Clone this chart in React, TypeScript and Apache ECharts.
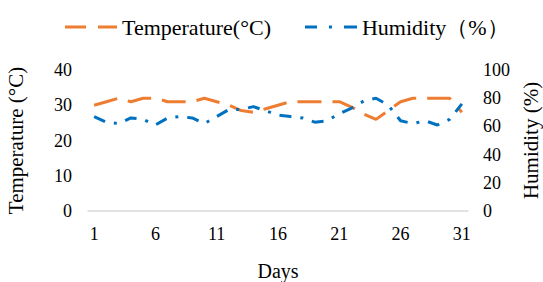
import React, { useEffect, useRef } from "react";
import * as echarts from "echarts";

const days: string[] = [
  "1","2","3","4","5","6","7","8","9","10","11","12","13","14","15","16",
  "17","18","19","20","21","22","23","24","25","26","27","28","29","30","31",
];
const temperature: number[] = [
  30, 31, 32, 31, 32, 32, 31, 31, 31, 32, 31, 30, 28.5, 28, 29, 30,
  31, 31, 31, 31, 31, 29.5, 27.5, 26, 28.5, 31, 32, 32, 32, 32, 28,
];
const humidity: number[] = [
  67, 63, 62, 66, 65, 61, 66, 67, 66, 62, 67, 72, 72, 74, 71, 68,
  67, 66, 63, 64, 69, 73, 78, 80, 75, 64, 62, 64, 61, 65, 76,
];
const tempName = "Temperature(°C)";
const humName = "Humidity（%）";

const FONT = "'Liberation Serif', 'Times New Roman', serif";

export default function App() {
  const ref = useRef<HTMLDivElement>(null);
  useEffect(() => {
    if (!ref.current) return;
    const chart = echarts.init(ref.current, undefined, { renderer: "svg" });
    chart.setOption({
      animation: false,
      backgroundColor: "#ffffff",
      textStyle: { fontFamily: FONT },
      legend: {
        left: 65,
        top: 16,
        padding: 0,
        itemWidth: 52,
        itemHeight: 3,
        itemGap: 34,
        textStyle: { fontFamily: FONT, fontSize: 22, color: "#000" },
        data: [
          { name: tempName, icon: "path://M0,0h21v3h-21zM33,0h19v3h-19z" },
          { name: humName, icon: "path://M0,0h12v3h-12zM24,0h3v3h-3zM39,0h13v3h-13z" },
        ],
      },
      grid: { left: 88, right: 75, top: 70, bottom: 71, outerBoundsMode: "none" },
      xAxis: {
        type: "category",
        data: days,
        boundaryGap: true,
        name: "Days",
        nameLocation: "middle",
        nameGap: 50,
        nameTextStyle: { fontFamily: FONT, fontSize: 20, color: "#000" },
        axisLine: { show: true, lineStyle: { color: "#d9d9d9", width: 1.5 } },
        axisTick: { show: false },
        axisLabel: {
          interval: 4,
          margin: 14,
          fontFamily: FONT,
          fontSize: 18,
          color: "#000",
        },
        splitLine: { show: false },
      },
      yAxis: [
        {
          type: "value",
          min: 0,
          max: 40,
          interval: 10,
          name: "Temperature (°C)",
          nameLocation: "middle",
          nameGap: 62,
          nameRotate: 90,
          nameTextStyle: { fontFamily: FONT, fontSize: 21, color: "#000" },
          axisLine: { show: false },
          axisTick: { show: false },
          splitLine: { show: false },
          axisLabel: { margin: 16, fontFamily: FONT, fontSize: 18, color: "#000" },
        },
        {
          type: "value",
          min: 0,
          max: 100,
          interval: 20,
          position: "right",
          name: "Humidity (%)",
          nameLocation: "middle",
          nameGap: 50,
          nameRotate: 90,
          nameTextStyle: { fontFamily: FONT, fontSize: 21, color: "#000" },
          axisLine: { show: false },
          axisTick: { show: false },
          splitLine: { show: false },
          axisLabel: { margin: 15, fontFamily: FONT, fontSize: 18, color: "#000" },
        },
      ],
      series: [
        {
          name: tempName,
          type: "line",
          yAxisIndex: 0,
          data: temperature,
          symbol: "none",
          color: "#ED7D31",
          lineStyle: { color: "#ED7D31", width: 3, type: [24, 11] },
        },
        {
          name: humName,
          type: "line",
          yAxisIndex: 1,
          data: humidity,
          symbol: "none",
          color: "#0070C0",
          lineStyle: { color: "#0070C0", width: 3, type: [12, 9, 3, 9] },
        },
      ],
    });
    return () => chart.dispose();
  }, []);
  return <div ref={ref} style={{ width: 543, height: 282, position: "absolute", left: 0, top: 0 }} />;
}
